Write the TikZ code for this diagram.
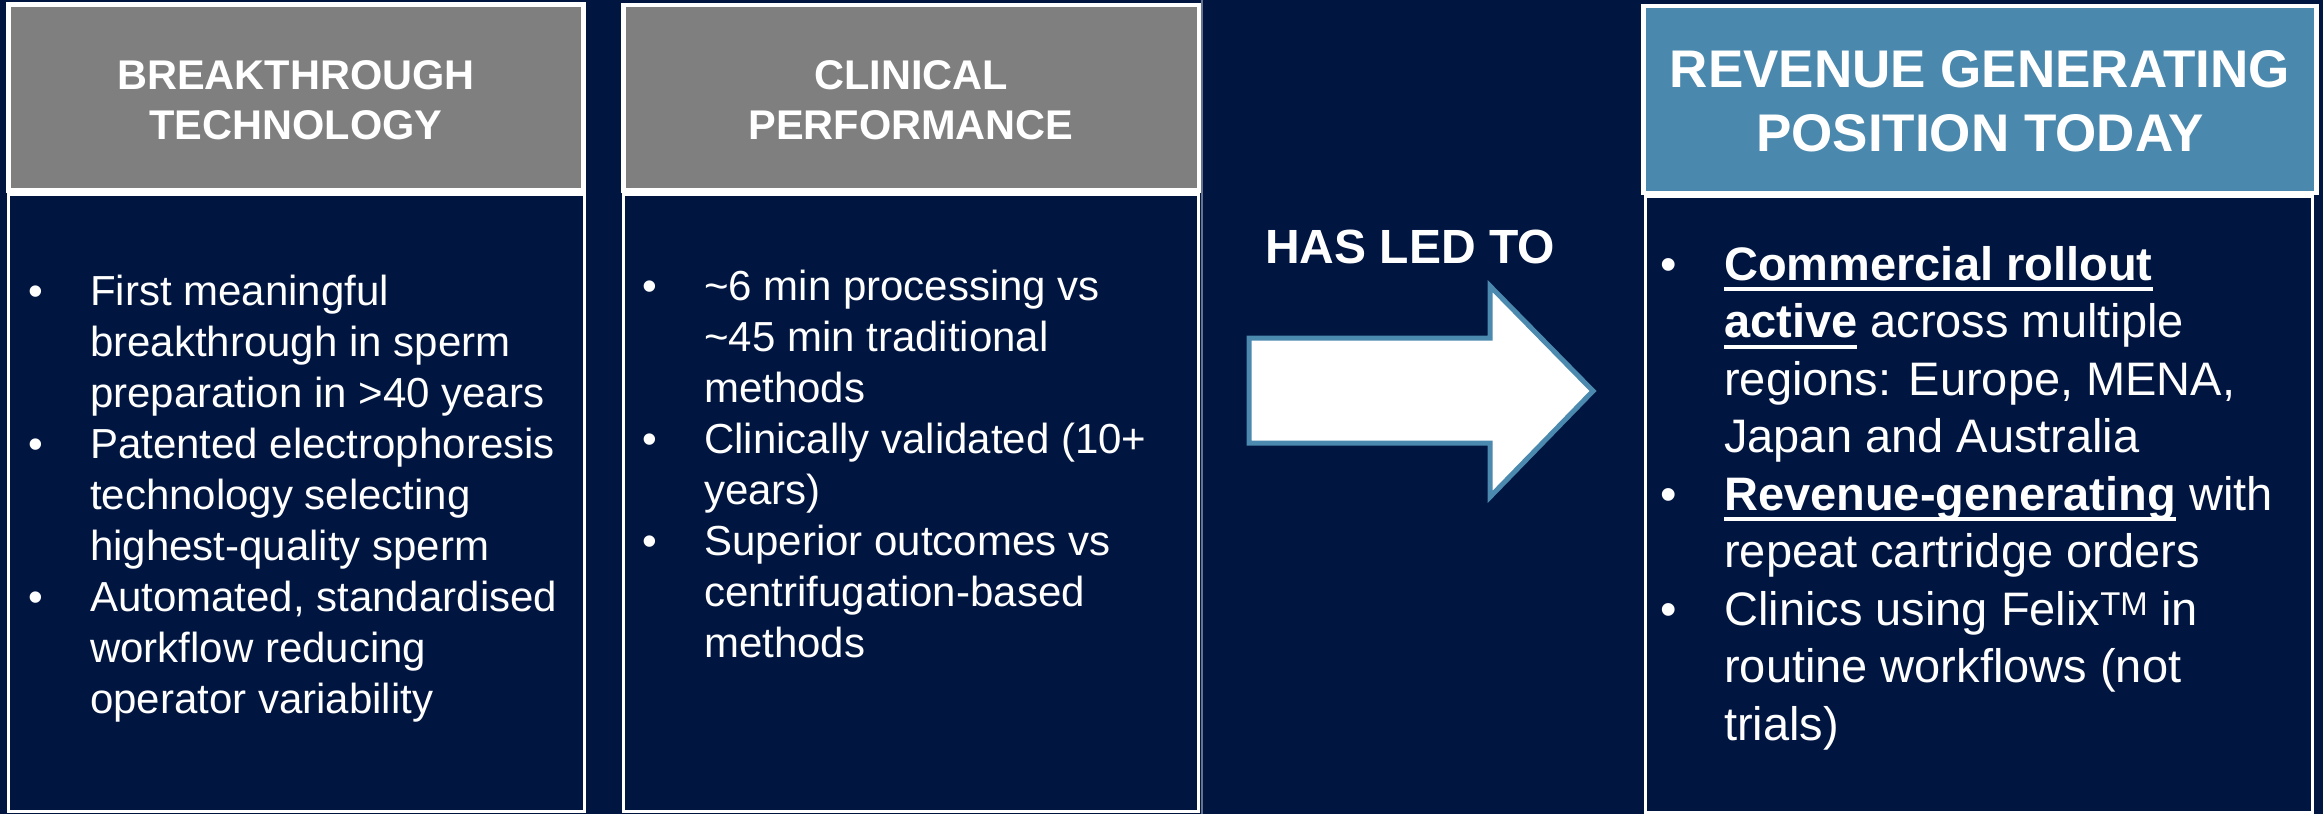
\documentclass[tikz,border=0pt]{standalone}
\usepackage{fontspec}
\setmainfont{Liberation Sans}
\usetikzlibrary{calc}
\definecolor{navybg}{RGB}{0,21,64}
\definecolor{headgray}{RGB}{127,127,127}
\definecolor{headblue}{RGB}{74,136,173}
\definecolor{arrowblue}{RGB}{76,137,175}
\def\ulbf#1{\setbox0\hbox{\bfseries #1}\rlap{\rule[-11pt]{\wd0}{4pt}}\box0\relax}
\def\bul{\llap{\textbullet\hspace{47pt}}}
\tikzset{
	headbox/.style={draw=white, line width=4.5pt},
	bodybox/.style={draw=white, line width=3pt, fill=navybg},
	headtext/.style={text=white, inner sep=0pt, align=center, font=\bfseries\fontsize{41.5}{50}\selectfont},
	bodytext/.style={text=white, inner sep=0pt, align=left, anchor=base west, font=\fontsize{42}{51}\selectfont},
}

\begin{document}
\begin{tikzpicture}[x=1pt, y=-1pt]
			%%%%% START %%%%%
			
			\useasboundingbox (0, 0) rectangle (2323, 814);
			\fill[navybg] (0, 0) rectangle (2323, 814);
			
			\draw[line width=1.5pt, color=white!40!navybg] (1202, 0) -- (1202, 814);
			
			% breakthrough technology (anchored at the last line)
			\draw[headbox, fill=headgray] (8.5, 4.5) rectangle (583.5, 190.5);
			\draw[bodybox] (8, 194) rectangle (584, 811.5);
			\node[headtext] (head1) at (296, 100) {BREAKTHROUGH\\TECHNOLOGY};
			\node[bodytext] (list1) at (90, 713) {\bul First meaningful\\
				breakthrough in sperm\\
				preparation in >40 years\\
				\bul Patented electrophoresis\\
				technology selecting\\
				highest-quality sperm\\
				\bul Automated, standardised\\
				workflow reducing\\
				operator variability};
			
			% clinical performance
			\draw[headbox, fill=headgray] (623.5, 5) rectangle (1199, 190.5);
			\draw[bodybox] (623.5, 194) rectangle (1198, 811.5);
			\node[headtext] (head2) at (911, 100) {CLINICAL\\PERFORMANCE};
			\node[bodytext] (list2) at (704, 657) {\bul \textasciitilde 6 min processing vs\\
				\textasciitilde 45 min traditional\\
				methods\\
				\bul Clinically validated (10+\\
				years)\\
				\bul Superior outcomes vs\\
				centrifugation-based\\
				methods};
			
			% arrow
			\node[text=white, inner sep=0pt, anchor=base, font=\bfseries\fontsize{48}{58}\selectfont] (led) at (1410, 263) {HAS LED TO};
			\draw[line width=5pt, color=arrowblue, fill=white] (1249, 338) -- (1490, 338) -- (1490, 286) -- (1593, 391)
				-- (1490, 497) -- (1490, 443) -- (1249, 443) -- cycle;
			
			% revenue generating position
			\draw[headbox, fill=headblue] (1643.5, 6) rectangle (2316.5, 193);
			\draw[bodybox] (1645.5, 196) rectangle (2312, 812);
			\node[headtext, font=\bfseries\fontsize{53}{64}\selectfont] (head3) at (1980, 101) {REVENUE GENERATING\\POSITION TODAY};
			\node[bodytext, font=\fontsize{47}{57.5}\selectfont] (list3) at (1724, 740) {\bul \ulbf{Commercial rollout}\\
				\ulbf{active} across multiple\\
				regions: Europe, MENA,\\
				Japan and Australia\\
				\bul \ulbf{Revenue-generating} with\\
				repeat cartridge orders\\
				\bul Clinics using Felix\textsuperscript{TM} in\\
				routine workflows (not\\
				trials)};
			
			%%%%% END %%%%%
\end{tikzpicture}
\end{document}
